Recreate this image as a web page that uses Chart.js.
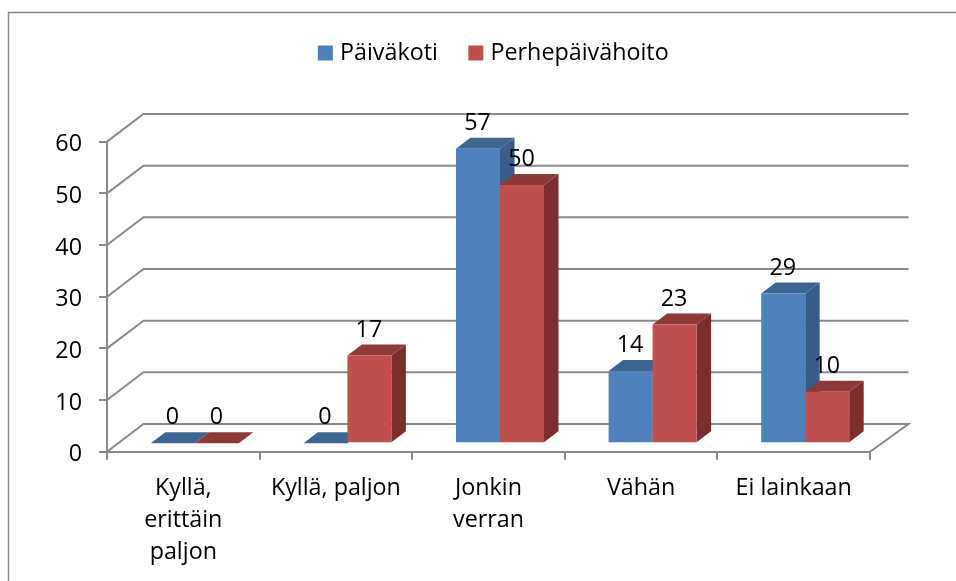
<!DOCTYPE html>
<html><head><meta charset="utf-8">
<style>html,body{margin:0;padding:0;background:#fff}canvas{display:block}</style>
<script src="https://cdn.jsdelivr.net/npm/chart.js@4/dist/chart.umd.min.js"></script>
</head><body><canvas id="c" width="956" height="581"></canvas>
<script>
const categories = [["Kyllä,","erittäin","paljon"],"Kyllä, paljon",["Jonkin","verran"],"Vähän","Ei lainkaan"];
const paivakoti = [0,0,57,14,29];
const perhepaivahoito = [0,17,50,23,10];
const seriesNames = ["Päiväkoti","Perhepäivähoito"];
const frontColors = ["#4F81BD","#C0504D"];
const topColors = ["#3C6592","#8E3A38"];
const sideColors = ["#385D8A","#7B2F2D"];
const FONT = "'Open Sans'";
const SIZE = 23.3;
const GREY = "#8A8A8A";
const wall = {dx:36.5, dy:-27.7};
const barShift = {dx:11.5, dy:-8.4};
const depth = {dx:14.5, dy:-11};

function poly(ctx, pts, fill){
  ctx.fillStyle = fill; ctx.beginPath();
  pts.forEach((p,i)=> i?ctx.lineTo(p[0],p[1]):ctx.moveTo(p[0],p[1]));
  ctx.closePath(); ctx.fill();
}
function faces(c, meta, i){
  meta.data.forEach(b=>{
    const p = b.getProps(['x','y','base','width'],true);
    const L = p.x-p.width/2, R = p.x+p.width/2;
    poly(c,[[R,p.y],[R+depth.dx,p.y+depth.dy],[R+depth.dx,p.base+depth.dy],[R,p.base]],sideColors[i]);
    poly(c,[[L,p.y],[L+depth.dx,p.y+depth.dy],[R+depth.dx,p.y+depth.dy],[R,p.y]],topColors[i]);
  });
}
const threeD = {
  id:'threeD',
  afterLayout(chart){
    const l = chart.legend, h = l.bottom-l.top;
    l.left += 60.5; l.right += 60.5;
    l.top = 6.35; l.bottom = 6.35+h;
  },
  beforeDraw(chart){
    const c = chart.ctx;
    c.save();
    c.strokeStyle = GREY; c.lineWidth = 1.5;
    c.beginPath();
    c.moveTo(8.5,chart.height); c.lineTo(8.5,12.5); c.lineTo(chart.width,12.5);
    c.stroke();
    c.restore();
  },
  beforeDatasetsDraw(chart){
    const c = chart.ctx, y = chart.scales.y, a = chart.chartArea;
    c.save();
    c.strokeStyle = GREY; c.lineWidth = 2; c.lineJoin='miter';
    y.ticks.forEach(t=>{
      const py = y.getPixelForValue(t.value);
      c.beginPath();
      c.moveTo(a.left,py);
      c.lineTo(a.left+wall.dx,py+wall.dy);
      c.lineTo(a.right+wall.dx+2,py+wall.dy);
      if(t.value===0){ c.lineTo(a.right,py); }
      c.stroke();
    });
    c.restore();
    // first series is painted before the second so the second overlaps its side face
    c.save();
    c.translate(barShift.dx,barShift.dy);
    const m0 = chart.getDatasetMeta(0);
    faces(c,m0,0);
    m0.controller.draw();
    c.restore();
  },
  beforeDatasetDraw(chart,args){
    if(args.index===0) return false;
    const c = chart.ctx;
    c.save();
    c.translate(barShift.dx,barShift.dy);
    faces(c,args.meta,args.index);
  },
  afterDatasetDraw(chart){ chart.ctx.restore(); },
  afterDatasetsDraw(chart){
    const c = chart.ctx;
    c.save();
    c.font = SIZE+"px "+FONT; c.fillStyle="#000"; c.textAlign="center"; c.textBaseline="middle";
    chart.data.datasets.forEach((d,i)=>{
      chart.getDatasetMeta(i).data.forEach((b,k)=>{
        c.fillText(String(d.data[k]), b.x+barShift.dx-0.5, b.y+barShift.dy-25.5);
      });
    });
    c.restore();
  }
};
new Chart(document.getElementById('c'),{
  type:'bar',
  data:{labels:categories,datasets:[
    {label:seriesNames[0],data:paivakoti,backgroundColor:frontColors[0],borderWidth:0,pointStyle:'rect',clip:false},
    {label:seriesNames[1],data:perhepaivahoito,backgroundColor:frontColors[1],borderWidth:0,pointStyle:'rect',clip:false}
  ]},
  options:{
    responsive:false,animation:false,
    devicePixelRatio:1,
    categoryPercentage:0.5767,barPercentage:1,
    layout:{padding:{left:0,right:86,top:73.37,bottom:0}},
    plugins:{
      tooltip:{enabled:false},
      legend:{display:true,position:'top',labels:{usePointStyle:true,boxWidth:6,boxHeight:15,padding:35,color:"#000",font:{family:FONT,size:SIZE}}}
    },
    scales:{
      x:{
        afterFit(s){s.height=129.3;},
        grid:{drawOnChartArea:false,drawTicks:true,tickLength:8,offset:true,color:GREY,lineWidth:2},
        border:{color:GREY,width:2},
        ticks:{color:"#000",maxRotation:0,minRotation:0,autoSkip:false,padding:12.5,font:{family:FONT,size:SIZE,lineHeight:1.38}}
      },
      y:{
        min:0,max:60,
        afterFit(s){s.width=107;},
        grid:{drawOnChartArea:false,drawTicks:true,tickLength:8,color:GREY,lineWidth:2},
        border:{color:GREY,width:2},
        ticks:{stepSize:10,color:"#000",padding:17,labelOffset:3,font:{family:FONT,size:SIZE}}
      }
    }
  },
  plugins:[threeD]
});
</script></body></html>
